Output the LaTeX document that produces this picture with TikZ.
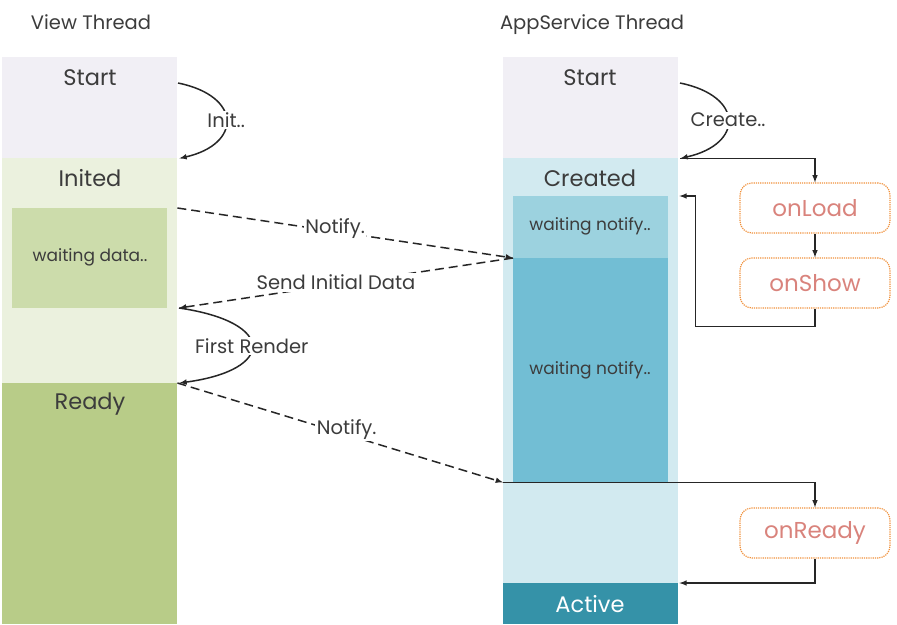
\documentclass[tikz,border=0pt]{standalone}
\usepackage{fontspec}
\setmainfont{Poppins}
\usetikzlibrary{calc}
\definecolor{startcol}{HTML}{F1EFF5}
\definecolor{initcol}{HTML}{EBF1DE}
\definecolor{datacol}{HTML}{CCDCAB}
\definecolor{readycol}{HTML}{B8CC88}
\definecolor{createdcol}{HTML}{D2EAF0}
\definecolor{notecol}{HTML}{9CD2DF}
\definecolor{waitcol}{HTML}{72BED4}
\definecolor{activecol}{HTML}{3592A8}
\definecolor{txtgray}{HTML}{3C3C3C}
\definecolor{hookline}{HTML}{F0903A}
\definecolor{hooktext}{HTML}{D9837C}
\tikzset{
  block/.style={rectangle,draw=none,anchor=north west,inner sep=0pt},
  title/.style={text=txtgray,inner sep=1pt,font=\fontsize{22.5}{26}\selectfont},
  head/.style={text=txtgray,inner sep=1pt,anchor=base,font=\fontsize{19.5}{23}\selectfont},
  small/.style={text=txtgray,inner sep=1pt,font=\fontsize{17}{20}\selectfont},
  lbl/.style={fill=white,text=txtgray,inner sep=1.5pt,font=\fontsize{19.5}{23}\selectfont},
  hook/.style={rectangle,rounded corners=12pt,draw=hookline,densely dotted,line width=1.2pt,
    text=hooktext,minimum width=150pt,minimum height=50pt,font=\fontsize{23}{26}\selectfont},
  flow/.style={-latex,line width=1.5pt,draw=black!85},
  notice/.style={flow,dash pattern=on 9pt off 5pt}
}
\begin{document}
\begin{tikzpicture}[x=1pt,y=-1pt]
\useasboundingbox (0,0) rectangle (897,624);
% thread columns
\foreach \name/\x/\y/\w/\h/\col in {vstart/2/57/175/101/startcol, vinit/2/158/175/225/initcol,
    vready/2/383/175/241/readycol, astart/503/57/175/101/startcol,
    acreated/503/158/175/425/createdcol, aactive/503/583/175/41/activecol,
    wdata/12/208/155/100/datacol, wnote/513/196/155/62/notecol, wwait/513/258/155/224/waitcol}
  \node[block,fill=\col,minimum width=\w pt,minimum height=\h pt] (\name) at (\x,\y) {};

\node[head] (vhead) at (91,29) {View Thread};
\node[head] (ahead) at (592,29) {AppService Thread};
\foreach \pos/\name/\txt in {{(90,78)/tvstart/Start}, {(90,178)/tvinit/Inited}, {(90,404)/tvready/Ready},
    {(590,78)/tastart/Start}, {(590,178)/tacreated/Created}}
  \node[title] (\name) at \pos {\txt};
\node[small] (tdata) at (90,257) {waiting data..};
\node[small] (tnote) at (590,226) {waiting notify..};
\node[small] (twait) at (590,370) {waiting notify..};
\node[title,text=white] (tactive) at (590,604) {Active};

% lifecycle hooks
\node[hook] (onload) at (815,208) {onLoad};
\node[hook] (onshow) at (815,283) {onShow};
\node[hook] (onready) at (815,533) {onReady};

\coordinate (vinitfrom) at (178,83);
\coordinate (renderfrom) at (179,308);
\coordinate (createfrom) at (680,83);
\coordinate (readyto) at (acreated.west |- wwait.south);

\draw[flow] (vinitfrom) .. controls (242,96) and (242,144) .. node[lbl] {Init..} ([xshift=2pt]vstart.south east);
\draw[flow] (renderfrom) .. controls (276,322) and (276,370) .. node[lbl] {First Render} ([xshift=2pt]vready.north east);
\draw[flow] (createfrom) .. controls (744,96) and (744,144) .. node[lbl] {Create..} ([xshift=2pt]astart.south east);

\draw[notice] (vinit.east |- wdata.north) -- node[lbl,pos=.47,yshift=3pt] {Notify.} (wwait.north west);
\draw[notice] (wwait.north west) -- node[lbl,pos=.53,yshift=2pt] {Send Initial Data} (renderfrom);
\draw[notice] (vready.north east) -- node[lbl,pos=.52,yshift=5pt] {Notify.} (readyto);

\draw[flow] ([xshift=2pt]astart.south east) -| (onload.north);
\draw[flow] (onload) -- (onshow);
\draw[flow] (onshow.south) -- ++(0,18) -| ([xshift=17pt]acreated.east |- wnote.north) -- ([xshift=1pt]acreated.east |- wnote.north);
\draw[flow] (readyto) -| (onready.north);
\draw[flow] (onready.south) |- ([xshift=1pt]aactive.north east);
\end{tikzpicture}
\end{document}
